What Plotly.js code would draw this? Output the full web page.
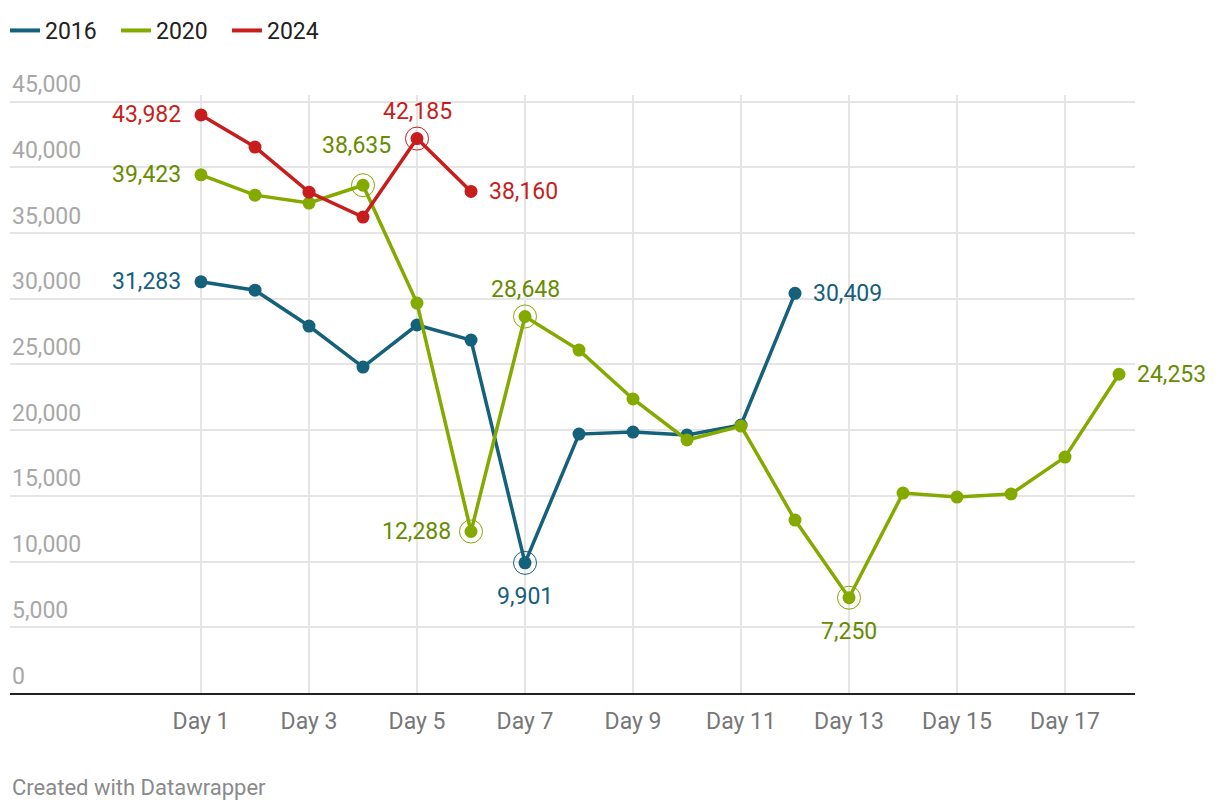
<!DOCTYPE html>
<html>
<head>
<meta charset="utf-8">
<script src="https://cdn.plot.ly/plotly-3.0.1.min.js"></script>
<style>
  html, body { margin: 0; padding: 0; background: #fff; }
  #chart { width: 1220px; height: 810px; }
</style>
</head>
<body>
<div id="chart"></div>
<script>
// values, one value per day
const days2016 = [1, 2, 3, 4, 5, 6, 7, 8, 9, 10, 11, 12];
const values2016 = [31283, 30650, 27920, 24800, 28000, 26850, 9901, 19700, 19850, 19630, 20390, 30409];

const days2020 = [1, 2, 3, 4, 5, 6, 7, 8, 9, 10, 11, 12, 13, 14, 15, 16, 17, 18];
const values2020 = [39423, 37880, 37280, 38635, 29670, 12288, 28648, 26090, 22370, 19250, 20310, 13160, 7250, 15210, 14910, 15140, 17950, 24253];

const days2024 = [1, 2, 3, 4, 5, 6];
const values2024 = [43982, 41540, 38110, 36210, 42185, 38160];

const tickDays = [1, 3, 5, 7, 9, 11, 13, 15, 17];
const yTicks = [0, 5000, 10000, 15000, 20000, 25000, 30000, 35000, 40000, 45000];

// which points get a value label (index into the series) and where it goes
const labels2016 = [[0, 'left'], [6, 'below'], [11, 'right']];
const labels2020 = [[0, 'left'], [3, 'aboveleft'], [5, 'left'], [6, 'above'], [12, 'below'], [17, 'right']];
const labels2024 = [[0, 'left'], [4, 'above'], [5, 'right']];

// points drawn with a ring around them
const rings2016 = [6];
const rings2020 = [3, 5, 6, 12];
const rings2024 = [4];

const series = [
  { name: '2016', x: days2016, y: values2016, line: '#15607a', text: '#15607a', labels: labels2016, rings: rings2016 },
  { name: '2020', x: days2020, y: values2020, line: '#84aa00', text: '#678c00', labels: labels2020, rings: rings2020 },
  { name: '2024', x: days2024, y: values2024, line: '#c71e1d', text: '#c71e1d', labels: labels2024, rings: rings2024 },
];

const fmt = v => v.toLocaleString('en-US');
const FS = 23;

const data = [];
const annotations = [];

series.forEach(s => {
  // legend only entry (line without marker)
  data.push({ x: [null], y: [null], type: 'scatter', mode: 'lines', name: s.name,
    line: { color: s.line, width: 4 }, hoverinfo: 'skip' });

  data.push({ x: s.x, y: s.y, type: 'scatter', mode: 'lines+markers', name: s.name, showlegend: false,
    line: { color: s.line, width: 3.5 }, marker: { color: s.line, size: 13 }, cliponaxis: false });

  data.push({ x: s.rings.map(i => s.x[i]), y: s.rings.map(i => s.y[i]), type: 'scatter', mode: 'markers',
    showlegend: false, hoverinfo: 'skip', cliponaxis: false,
    marker: { symbol: 'circle-open', size: 23, color: s.line, line: { color: s.line, width: 1 } } });

  s.labels.forEach(([i, pos]) => {
    const a = { x: s.x[i], y: s.y[i], xref: 'x', yref: 'y', text: fmt(s.y[i]), showarrow: false,
      font: { family: 'Roboto', size: FS, color: s.text } };
    if (pos === 'left') { a.xanchor = 'right'; a.xshift = -18; }
    if (pos === 'right') { a.xanchor = 'left'; a.xshift = 16; }
    if (pos === 'above') { a.yshift = 27; }
    if (pos === 'below') { a.yshift = -34; }
    if (pos === 'aboveleft') { a.yshift = 40; a.xshift = -7; }
    annotations.push(a);
  });
});

// value axis labels sit just above their grid lines
yTicks.forEach(v => {
  annotations.push({ xref: 'paper', yref: 'y', x: 0, y: v, text: fmt(v), showarrow: false,
    xanchor: 'left', yanchor: 'middle', yshift: 17, font: { family: 'Roboto', size: FS, color: '#a8a8a8' } });
});

annotations.push({ xref: 'paper', yref: 'paper', x: 0, y: -94 / 598, text: 'Created with Datawrapper',
  showarrow: false, xanchor: 'left', yanchor: 'middle', font: { family: 'Roboto', size: 22, color: '#8a8a8a' } });

const layout = {
  width: 1220, height: 810,
  margin: { l: 10, r: 85, t: 95, b: 117 },
  paper_bgcolor: '#fff', plot_bgcolor: '#fff',
  font: { family: 'Roboto', size: FS, color: '#222' },
  showlegend: true,
  legend: { orientation: 'h', xref: 'container', yref: 'container', x: 5 / 1220, y: 1 - 9 / 810,
    xanchor: 'left', yanchor: 'top', entrywidth: 66, entrywidthmode: 'pixels',
    font: { family: 'Roboto', size: FS, color: '#222' }, traceorder: 'normal' },
  xaxis: {
    range: [-2.537, 18.296], tickvals: tickDays, ticktext: tickDays.map(d => 'Day ' + d),
    showgrid: true, gridcolor: '#e5e5e5', gridwidth: 2, zeroline: false,
    showline: true, linecolor: '#222', linewidth: 2, ticks: 'outside', ticklen: 6, tickcolor: 'rgba(0,0,0,0)',
    tickfont: { family: 'Roboto', size: FS, color: '#777' }, fixedrange: true,
  },
  yaxis: {
    range: [0, 45500], tickvals: yTicks, showticklabels: false,
    showgrid: true, gridcolor: '#e5e5e5', gridwidth: 2, zeroline: false,
    showline: false, ticks: '', fixedrange: true,
  },
  annotations: annotations,
  hovermode: false,
};

Plotly.newPlot('chart', data, layout, { displayModeBar: false, staticPlot: true });
</script>
</body>
</html>
